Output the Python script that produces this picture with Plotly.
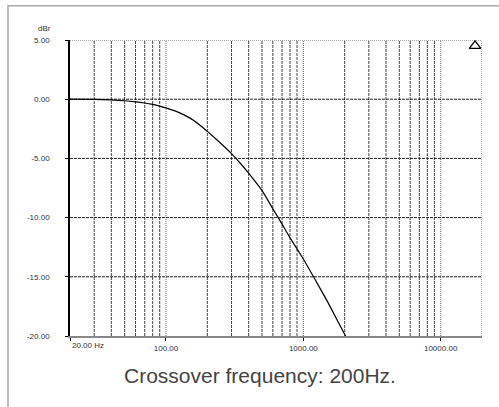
import plotly.graph_objects as go

# response (low-pass, crossover 200 Hz)
freq_hz = [20, 30, 40, 50, 60, 70, 80, 90, 100, 120, 150, 175, 200, 250, 300, 350, 400,
           450, 500, 600, 700, 800, 1000, 1200, 1500, 2030]
level_dbr = [0.0, -0.02, -0.06, -0.13, -0.22, -0.32, -0.44, -0.58, -0.73, -1.05, -1.6,
             -2.15, -2.72, -3.72, -4.6, -5.45, -6.25, -7.0, -7.7, -9.25, -10.55, -11.7,
             -13.5, -15.1, -17.1, -20.0]

x_tickvals = [20, 100, 1000, 10000]
x_ticktext = ["", "100.00", "1000.00", "10000.00"]
y_tickvals = [5, 0, -5, -10, -15, -20]
y_ticktext = ["5.00", "0.00", "-5.00", "-10.00", "-15.00", "-20.00"]

minor_grid = [30, 40, 50, 60, 70, 80, 90, 200, 300, 400, 500, 600, 700, 800, 900,
              2000, 3000, 4000, 5000, 6000, 7000, 8000, 9000]
decade_grid = [100, 1000, 10000, 20000]
level_grid = [0, -5, -10, -15]

marker_freq = [17800]
marker_db = [4.5]

x_range = [20, 20000]
y_range = [-20, 5]


def vlines(xs):
    gx, gy = [], []
    for v in xs:
        gx += [v, v, None]
        gy += [y_range[0], y_range[1], None]
    return gx, gy


def hlines(ys):
    gx, gy = [], []
    for v in ys:
        gx += [x_range[0], x_range[1], None]
        gy += [v, v, None]
    return gx, gy


fig = go.Figure()

gx, gy = vlines(minor_grid)
fig.add_trace(go.Scatter(x=gx, y=gy, mode="lines", hoverinfo="skip",
                         line=dict(color="#444", width=1, dash="3px,1px")))
gx, gy = vlines(decade_grid)
fig.add_trace(go.Scatter(x=gx, y=gy, mode="lines", hoverinfo="skip",
                         line=dict(color="#888", width=1.3, dash="1px,1px")))
gx, gy = hlines(level_grid)
fig.add_trace(go.Scatter(x=gx, y=gy, mode="lines", hoverinfo="skip",
                         line=dict(color="#222", width=1, dash="3px,1px")))
gx, gy = hlines([y_range[1]])
fig.add_trace(go.Scatter(x=gx, y=gy, mode="lines", hoverinfo="skip",
                         line=dict(color="#888", width=1.3, dash="1px,1px")))

fig.add_trace(go.Scatter(x=freq_hz, y=level_dbr, mode="lines",
                         line=dict(color="black", width=1.2, shape="spline", smoothing=0.4)))

fig.add_trace(go.Scatter(x=marker_freq, y=marker_db, mode="markers", hoverinfo="skip",
                         marker=dict(symbol="triangle-up-open", size=10, color="black",
                                     line=dict(width=1.3))))

fig.update_layout(
    width=499, height=407,
    margin=dict(l=70, r=17, t=40, b=71),
    paper_bgcolor="white", plot_bgcolor="white",
    showlegend=False,
    font=dict(family="Liberation Sans, Arial", size=8, color="#333"),
    xaxis=dict(type="log", range=[1.30103, 4.30103], showgrid=False, zeroline=False,
               tickvals=x_tickvals, ticktext=x_ticktext, ticks="outside", ticklen=3,
               tickcolor="black", showline=True, linecolor="#888", linewidth=2),
    yaxis=dict(range=y_range, showgrid=False, zeroline=False,
               tickvals=y_tickvals, ticktext=y_ticktext, ticks="outside", ticklen=3,
               tickcolor="black", showline=True, linecolor="black", linewidth=1.5,
               ticklabelstandoff=14),
    shapes=[dict(type="rect", xref="paper", yref="paper",
                 x0=-0.1505, x1=1.1, y0=-0.25, y1=1.116,
                 line=dict(color="#aaa", width=1.5))],
    annotations=[
        dict(text="dBr", xref="paper", yref="paper", x=-0.0825, y=1.04,
             yanchor="middle", showarrow=False, font=dict(size=8, color="#333")),
        dict(text="20.00 Hz", xref="paper", yref="paper", x=0, y=-0.033,
             xanchor="left", yanchor="middle", showarrow=False,
             font=dict(size=8, color="#333")),
        dict(text="Crossover frequency: 200Hz.", xref="paper", yref="paper",
             x=0.461, y=-0.135, yanchor="middle", showarrow=False,
             font=dict(size=21, color="#444")),
    ],
)

fig.write_html("out.html", config={"displayModeBar": False},
               post_script="document.body.style.margin='0';")
